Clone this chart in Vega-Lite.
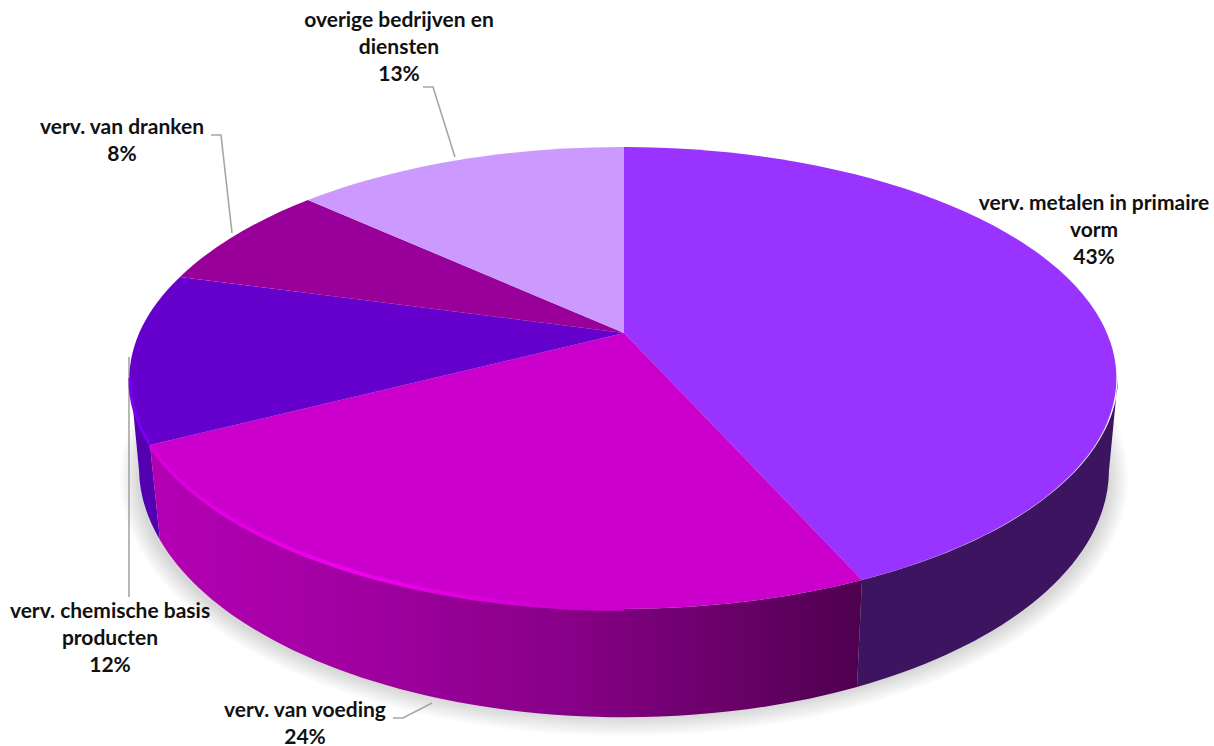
{
"$schema":"https://vega.github.io/schema/vega-lite/v6.json",
"width":1214,"height":746,"padding":0,"autosize":{"type":"none"},"background":"white",
"config":{"view":{"stroke":null}},
"datasets":{
"slices":[
{"name":"verv. metalen in primaire vorm","value":43,"label":"verv. metalen in primaire|vorm|43%"},
{"name":"verv. van voeding","value":24,"label":"verv. van voeding|24%"},
{"name":"verv. chemische basis producten","value":12,"label":"verv. chemische basis|producten|12%"},
{"name":"verv. van dranken","value":8,"label":"verv. van dranken|8%"},
{"name":"overige bedrijven en diensten","value":13,"label":"overige bedrijven en|diensten|13%"}
],
"shadow":[{"ring":"a"},{"ring":"b"},{"ring":"c"},{"ring":"d"},{"ring":"e"},{"ring":"f"},{"ring":"g"},{"ring":"h"},{"ring":"i"},{"ring":"j"}]
},
"data":{"name":"slices"},
"layer":[
{"data":{"name":"shadow"},"mark":{"type":"point","filled":true,"size":4,"strokeWidth":0,"fill":"#000","fillOpacity":0.014},
"encoding":{"shape":{"field":"ring","type":"nominal","legend":null,"scale":{"domain":["a","b","c","d","e","f","g","h","i","j"],"range":[
"M-469,105A486,240 0 1 1 503,105A486,240 0 1 1 -469,105Z",
"M-471,105A488,242 0 1 1 505,105A488,242 0 1 1 -471,105Z",
"M-473,105A490,244 0 1 1 507,105A490,244 0 1 1 -473,105Z",
"M-475,105A492,246 0 1 1 509,105A492,246 0 1 1 -475,105Z",
"M-477,105A494,248 0 1 1 511,105A494,248 0 1 1 -477,105Z",
"M-479,105A496,250 0 1 1 513,105A496,250 0 1 1 -479,105Z",
"M-481,105A498,252 0 1 1 515,105A498,252 0 1 1 -481,105Z",
"M-483,105A500,254 0 1 1 517,105A500,254 0 1 1 -483,105Z",
"M-485,105A502,256 0 1 1 519,105A502,256 0 1 1 -485,105Z",
"M-487,105A504,258 0 1 1 521,105A504,258 0 1 1 -487,105Z"]}}}},
{"transform":[{"filter":"datum.value != 43"}],"mark":{"type":"point","filled":false,"size":4,"stroke":"#a6a6a6","strokeWidth":1.6,"opacity":1},
"encoding":{"shape":{"field":"name","type":"nominal","legend":null,"scale":{"domain":["verv. van voeding","verv. chemische basis producten","verv. van dranken","overige bedrijven en diensten"],"range":[
"M-214,345L-204,345L-175,330",
"M-478,-16L-478,224",
"M-396,-238L-386,-238L-375,-140",
"M-184,-286L-174,-286L-152,-216"]}}}},
{"transform":[{"filter":"datum.value == 43"}],"mark":{"type":"point","filled":true,"size":4,"strokeWidth":0,"fill":"#3d1460","opacity":1},
"encoding":{"shape":{"field":"name","type":"nominal","legend":null,"scale":{"range":["M255,207A494,231 0 0 0 511,5L502,97A485,248 0 0 1 250,314Z"]}}}},
{"transform":[{"filter":"datum.value == 12"}],"mark":{"type":"point","filled":true,"size":4,"strokeWidth":0,"fill":"#5200b0","opacity":1},
"encoding":{"shape":{"field":"name","type":"nominal","legend":null,"scale":{"range":["M-457,72A494,231 0 0 1 -477,5L-468,97A485,248 0 0 0 -447,167Z"]}}}},
{"transform":[{"filter":"datum.value == 24"}],"mark":{"type":"point","filled":true,"size":4,"strokeWidth":0,"opacity":1,
"fill":{"gradient":"linear","x1":0,"x2":1,"y1":0,"y2":0,"stops":[{"offset":0,"color":"#b400b4"},{"offset":0.3,"color":"#a000a0"},{"offset":0.6,"color":"#860086"},{"offset":0.85,"color":"#640064"},{"offset":1,"color":"#4e004e"}]}},
"encoding":{"shape":{"field":"name","type":"nominal","legend":null,"scale":{"range":["M255,207A494,231 0 0 1 -457,72L-447,167A485,248 0 0 0 250,314Z"]}}}},
{"mark":{"type":"point","filled":true,"size":4,"strokeWidth":0,"opacity":1},
"encoding":{
"color":{"field":"name","type":"nominal","legend":null,"scale":{"domain":["verv. metalen in primaire vorm","verv. van voeding","verv. chemische basis producten","verv. van dranken","overige bedrijven en diensten"],"range":["#9933ff","#cc00cc","#6600cc","#990099","#cc99ff"]}},
"shape":{"field":"name","type":"nominal","legend":null,"scale":{"domain":["verv. metalen in primaire vorm","verv. van voeding","verv. chemische basis producten","verv. van dranken","overige bedrijven en diensten"],"range":[
"M17,-40L17,-226A494,231 0 0 1 255,207Z",
"M17,-40L255,207A494,231 0 0 1 -457,72Z",
"M17,-40L-457,72A494,231 0 0 1 -427,-96Z",
"M17,-40L-427,-96A494,231 0 0 1 -299,-173Z",
"M17,-40L-299,-173A494,231 0 0 1 17,-226Z"]}}}},
{"transform":[{"filter":"datum.value == 24"}],"mark":{"type":"point","filled":false,"size":4,"strokeWidth":4,"opacity":1,
"stroke":{"gradient":"linear","x1":0,"x2":1,"y1":0,"y2":0,"stops":[{"offset":0,"color":"#d800d8"},{"offset":0.45,"color":"#f000f0"},{"offset":1,"color":"#c400c4"}]}},
"encoding":{"shape":{"field":"name","type":"nominal","legend":null,"scale":{"range":["M-457,72A494,231 0 0 0 17,236"]}}}},
{"transform":[{"filter":"datum.value == 12"}],"mark":{"type":"point","filled":false,"size":4,"strokeWidth":3,"opacity":1,"stroke":"#7800f0"},
"encoding":{"shape":{"field":"name","type":"nominal","legend":null,"scale":{"range":["M-457,72A494,231 0 0 1 -477,5"]}}}},
{"transform":[{"filter":"datum.value == 43"}],"mark":{"type":"text","font":"Lato","fontWeight":"bold","fontSize":21,"fill":"#111","lineBreak":"|","lineHeight":27,"align":"center","baseline":"middle","dx":487,"dy":-169},"encoding":{"text":{"field":"label"}}},
{"transform":[{"filter":"datum.value == 24"}],"mark":{"type":"text","font":"Lato","fontWeight":"bold","fontSize":21,"fill":"#111","lineBreak":"|","lineHeight":27,"align":"center","baseline":"middle","dx":-302,"dy":338},"encoding":{"text":{"field":"label"}}},
{"transform":[{"filter":"datum.value == 12"}],"mark":{"type":"text","font":"Lato","fontWeight":"bold","fontSize":21,"fill":"#111","lineBreak":"|","lineHeight":27,"align":"center","baseline":"middle","dx":-497,"dy":239},"encoding":{"text":{"field":"label"}}},
{"transform":[{"filter":"datum.value == 8"}],"mark":{"type":"text","font":"Lato","fontWeight":"bold","fontSize":21,"fill":"#111","lineBreak":"|","lineHeight":27,"align":"center","baseline":"middle","dx":-485,"dy":-245},"encoding":{"text":{"field":"label"}}},
{"transform":[{"filter":"datum.value == 13"}],"mark":{"type":"text","font":"Lato","fontWeight":"bold","fontSize":21,"fill":"#111","lineBreak":"|","lineHeight":27,"align":"center","baseline":"middle","dx":-208,"dy":-352},"encoding":{"text":{"field":"label"}}}
],
"resolve":{"scale":{"shape":"independent","color":"independent"}}
}
